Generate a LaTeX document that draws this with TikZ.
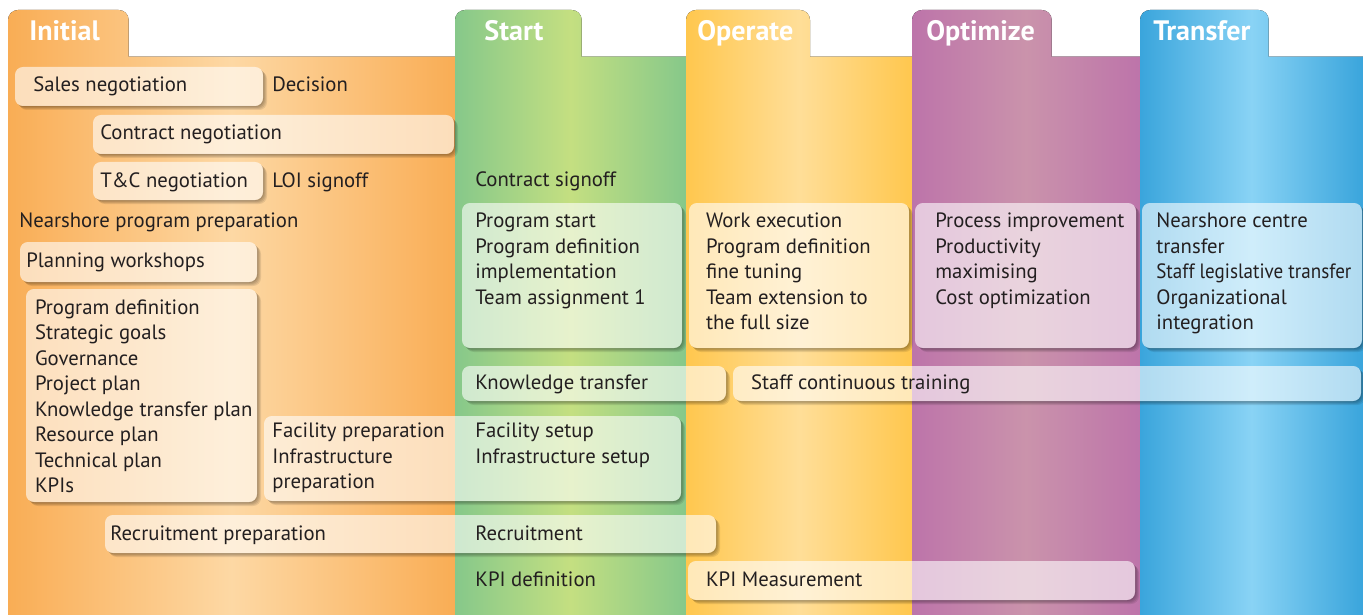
\documentclass[tikz,border=0pt]{standalone}
\usepackage{fontspec}
\setmainfont{PT Sans}
\usepackage{xcolor}
\usepackage{tikz}
\usetikzlibrary{shapes,arrows,positioning,calc}

\definecolor{iniEdge}{HTML}{F9AD55}
\definecolor{iniMid}{HTML}{FDD8A4}
\definecolor{staEdge}{HTML}{86C88A}
\definecolor{staMid}{HTML}{C4DF81}
\definecolor{opeEdge}{HTML}{FFC74E}
\definecolor{opeMid}{HTML}{FFDE98}
\definecolor{optEdge}{HTML}{BD74AA}
\definecolor{optMid}{HTML}{CA93AB}
\definecolor{traEdge}{HTML}{3AA5DC}
\definecolor{traMid}{HTML}{89D3F5}
\definecolor{inkgray}{HTML}{231F20}

% translucent box with a soft shadow: x1, y1, x2, y2 (pixels, y down)
\newcommand{\taskbox}[4]{%
  \begin{scope}[even odd rule]
    \clip (0,0) rectangle (1363,-615)
      [rounded corners=4.5pt] (#1,-#2) rectangle (#3,-#4);
    \foreach \s in {1,2,3,4}
      \fill[black, opacity=0.09, rounded corners=4.5pt]
        (#1+\s,-#2-\s) rectangle (#3+\s,-#4-\s);
  \end{scope}
  \fill[white, opacity=0.6, rounded corners=4.5pt] (#1,-#2) rectangle (#3,-#4);
}

\begin{document}
\begin{tikzpicture}[x=0.02cm, y=0.02cm,
    txt/.style={anchor=base west, inner sep=0pt, text=inkgray,
                font=\fontsize{11.8}{14}\selectfont},
    tabtitle/.style={anchor=base west, inner sep=0pt, text=white,
                font=\fontsize{16}{19}\selectfont\bfseries}]
        \useasboundingbox (0,0) rectangle (1363,-615);

        % Phase panels with tabs
        \foreach \xa/\xt/\xb/\ce/\cm in {8/128.7/455/iniEdge/iniMid,
                 455/581.7/686/staEdge/staMid, 686/810/912/opeEdge/opeMid,
                 912/1051.7/1140/optEdge/optMid, 1140/1268.7/1363/traEdge/traMid}
          \fill[left color=\ce, right color=\ce, middle color=\cm]
            (\xa,-615) -- (\xa,-20) arc[start angle=180, end angle=90, radius=10]
            -- (\xt-10,-10) arc[start angle=90, end angle=0, radius=10]
            -- (\xt,-56.7) -- (\xb,-56.7) -- (\xb,-615) -- cycle;

        \node[tabtitle] (initial) at (29,-40.7) {Initial};
        \node[tabtitle] (start) at (484,-40.7) {Start};
        \node[tabtitle] (operate) at (697,-40.7) {Operate};
        \node[tabtitle] (optimize) at (926,-40.7) {Optimize};
        \node[tabtitle] (transfer) at (1153,-40.7) {Transfer};

        % Boxes
        \taskbox{15}{67}{263}{106}
        \taskbox{93}{115}{454}{154}
        \taskbox{93}{162}{263}{200}
        \taskbox{20}{242}{257}{282}
        \taskbox{26}{289}{257}{502}
        \taskbox{264}{416}{681}{501}
        \taskbox{105}{515}{716}{553}
        \taskbox{462}{203}{682}{348}
        \taskbox{689}{203}{909}{348}
        \taskbox{915}{203}{1136}{348}
        \taskbox{1142}{203}{1362}{348}
        \taskbox{462}{366}{726}{401}
        \taskbox{733}{366}{1361}{401}
        \taskbox{688}{561}{1135}{600}

        % Initial
        \node[txt] (sales) at (33,-91.5) {Sales negotiation};
        \node[txt] (decision) at (272,-91.5) {Decision};
        \node[txt] (contract) at (100,-140) {Contract negotiation};
        \node[txt] (tandc) at (100,-187.3) {T\&C negotiation};
        \node[txt] (loi) at (272,-187.3) {LOI signoff};
        \node[txt] (nearshore) at (19,-227.7) {Nearshore program preparation};
        \node[txt] (workshops) at (26,-267.7) {Planning workshops};
        \foreach \t [count=\i] in {Program definition, Strategic goals, Governance,
                 Project plan, Knowledge transfer plan, Resource plan, Technical plan, KPIs}
          \node[txt] (plan-\i) at (34.7,{-314.3-25.5*(\i-1)}) {\t};
        \foreach \t [count=\i] in {Facility preparation, Infrastructure, preparation}
          \node[txt] (facprep-\i) at (272,{-437.7-25.6*(\i-1)}) {\t};
        \node[txt] (recprep) at (110,-540.7) {Recruitment preparation};

        % Start
        \node[txt] (signoff) at (475,-186.7) {Contract signoff};
        \foreach \t [count=\i] in {Program start, Program definition, implementation, Team assignment 1}
          \node[txt] (prog-\i) at (475,{-227.7-25.5*(\i-1)}) {\t};
        \node[txt] (knowledge) at (475,-389.3) {Knowledge transfer};
        \foreach \t [count=\i] in {Facility setup, Infrastructure setup}
          \node[txt] (facset-\i) at (475,{-437.7-25.6*(\i-1)}) {\t};
        \node[txt] (recruit) at (475,-540.7) {Recruitment};
        \node[txt] (kpidef) at (475,-586.7) {KPI definition};

        % Operate
        \foreach \t [count=\i] in {Work execution, Program definition, fine tuning,
                 Team extension to, the full size}
          \node[txt] (work-\i) at (705.7,{-227.7-25.5*(\i-1)}) {\t};
        \node[txt] (training) at (750.7,-389.3) {Staff continuous training};
        \node[txt] (kpimeas) at (705.7,-586.7) {KPI Measurement};

        % Optimize
        \foreach \t [count=\i] in {Process improvement, Productivity, maximising, Cost optimization}
          \node[txt] (proc-\i) at (935,{-227.7-25.5*(\i-1)}) {\t};

        % Transfer
        \foreach \t [count=\i] in {Nearshore centre, transfer, {\scalebox{0.92}[1]{Staff legislative transfer}},
                 Organizational, integration}
          \node[txt] (centre-\i) at (1156,{-227.7-25.5*(\i-1)}) {\t};
    \end{tikzpicture}
\end{document}
